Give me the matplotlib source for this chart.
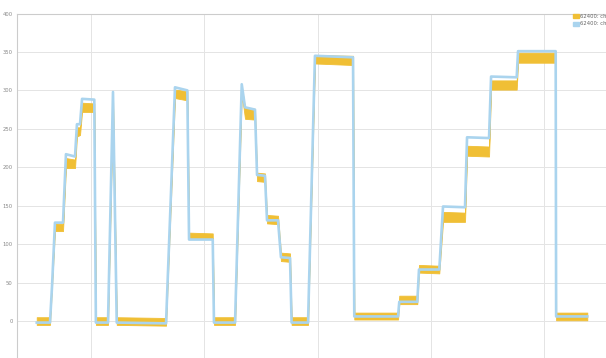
import matplotlib
matplotlib.use("Agg")
import matplotlib.pyplot as plt
from matplotlib.patches import Patch

# breakpoints of the trace, time in seconds
t = [52.1, 63.8, 65.6, 68.2, 75.3, 77.9, 85.9, 87.6, 90.3, 92.1,
     102.9, 104.3, 115.0, 119.4, 122.7, 166.2, 174.1, 185.0, 186.5, 207.4,
     208.5, 227.1, 233.0, 235.9, 244.7, 246.5, 253.5, 255.3, 265.0, 267.6,
     275.6, 277.0, 291.5, 297.6, 331.2, 332.3, 370.9, 372.0, 387.9, 389.4,
     407.3, 410.6, 430.0, 431.8, 451.2, 453.0, 475.6, 476.8, 510.0, 510.4,
     537.9]

# ch3 (smooth level)
ch3 = [-2, -2, 45, 128, 128, 217, 214, 256, 256, 289,
       288, -2, -2, 298, -2, -3, 304, 300, 106, 106,
       -2, -2, 308, 278, 275, 190, 189, 131, 131, 83,
       82, -2, -2, 345, 343, 6, 6, 25, 25, 67,
       67, 149, 148, 239, 238, 318, 317, 351, 351, 6,
       6]

# ch1 (noisy) - lower and upper edge of the noise band
ch1_low = [-5, -5, 45, 117, 117, 199, 199, 240, 242, 272,
           272, -5, -5, 284, -5, -6, 290, 287, 107, 107,
           -5, -5, 295, 263, 262, 182, 181, 127, 126, 78,
           77, -5, -5, 335, 333, 2, 2, 22, 22, 63,
           62, 129, 129, 215, 214, 301, 301, 336, 336, 1,
           1]
ch1_high = [5, 5, 52, 127, 126, 212, 210, 252, 252, 284,
            283, 5, 5, 293, 5, 4, 301, 299, 115, 114,
            5, 5, 305, 277, 276, 193, 192, 138, 137, 89,
            88, 5, 5, 346, 345, 11, 11, 33, 33, 73,
            72, 142, 141, 228, 227, 313, 313, 349, 349, 11,
            11]

yticks = [-50, 0, 50, 100, 150, 200, 250, 300, 350, 400]
xgrid = [100, 200, 300, 400, 500]
labels = ["62400: ch1", "62400: ch3"]

yellow = "#f0bf35"
blue = "#aad4ee"

fig = plt.figure(figsize=(6.06, 3.58), dpi=100)
ax = fig.add_axes([17 / 606, -1.5 / 358, 589 / 606, 346 / 358])

ax.fill_between(t, ch1_low, ch1_high, color=yellow, lw=0.6, edgecolor=yellow, zorder=2)
ax.plot(t, ch3, color=blue, lw=1.9, zorder=3, solid_joinstyle="round")

ax.set_xlim(34.7, 554.4)
ax.set_ylim(-50, 400)
ax.set_yticks(yticks)
ax.set_xticks(xgrid)
ax.set_xticklabels([])
ax.tick_params(length=0, labelsize=3.8, labelcolor="#888888", pad=3)
ax.grid(True, color="#e4e4e4", lw=0.7, zorder=0)
ax.set_axisbelow(True)
for s in ["right", "bottom"]:
    ax.spines[s].set_visible(False)
for s in ["left", "top"]:
    ax.spines[s].set_color("#cccccc")
    ax.spines[s].set_linewidth(0.8)

handles = [Patch(color=yellow), Patch(color=blue)]
fig.legend(handles, labels, loc="upper left", bbox_to_anchor=(573 / 606, 1 - 14 / 358),
           frameon=False, fontsize=3.8, handlelength=1.1, handleheight=0.8,
           handletextpad=0.25, labelspacing=0.45, borderaxespad=0, borderpad=0,
           labelcolor="#666666")

fig.savefig("out.png", dpi=100)
